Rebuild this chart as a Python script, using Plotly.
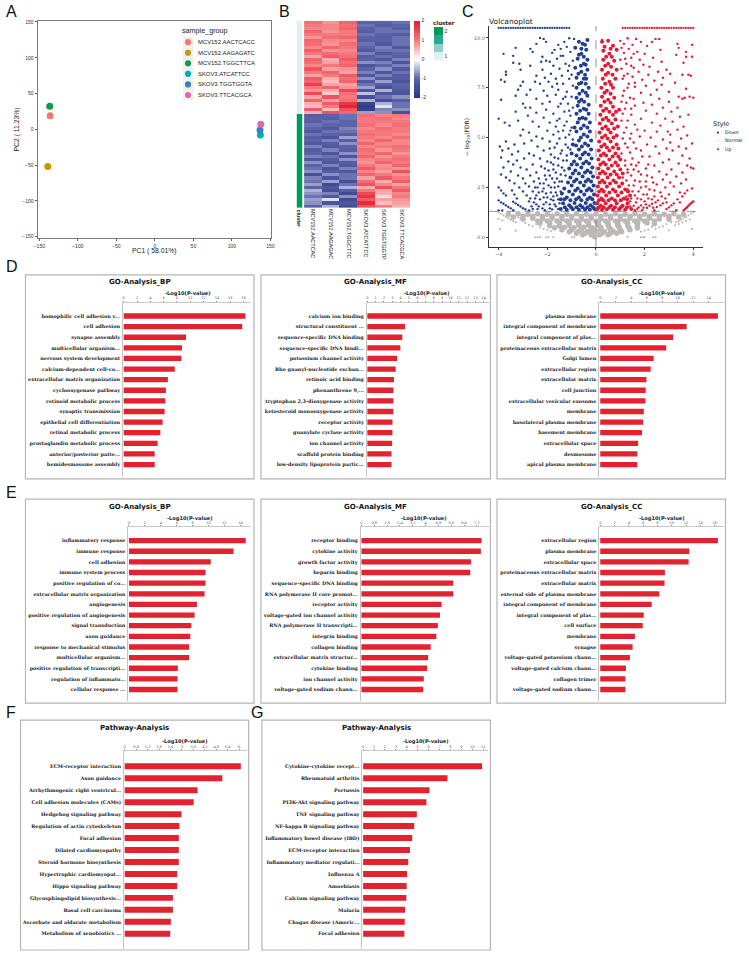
import plotly.graph_objects as go

W, H = 749, 954
RED = "#e2222e"

def fx(p):
    return p / W

def fy(p):
    return 1 - p / H

# ---------- Panel A data ----------
pca_samples = ["MCV152.AACTCACC", "MCV152.AAGAGATC", "MCV152.TGGCTTCA", "SKOV3.ATCATTCC", "SKOV3.TGGTGGTA", "SKOV3.TTCACGCA"]
pca_pc1 = [-136, -139, -136.5, 137, 136.5, 137.5]
pca_pc2 = [19, -52, 32, -8, -1, 7]
pca_colors = ["#f8766d", "#c49a00", "#0b9a4f", "#00aebb", "#3b7fbf", "#de6aa3"]

# ---------- Panel B data ----------
heat_columns = ["MCV152.AACTCAC", "MCV152.AAGAGAC", "MCV152.TGGCTTC", "SKOV3.ATCATTCC", "SKOV3.TGGTGGTP", "SKOV3.TTCACGCA"]
heat_rows = [
    [1.1, 0.8, 1.2, -1.0, -1.0, -0.9], [1.0, 0.9, 1.1, -0.9, -1.1, -1.0], [0.9, 0.9, 1.2, -1.0, -0.9, -1.1],
    [1.2, 0.8, 1.0, -1.1, -0.9, -0.9], [1.0, 1.0, 1.0, -0.9, -1.0, -1.1], [0.8, 1.1, 1.2, -1.0, -1.1, -0.9],
    [1.2, 0.9, 0.9, -1.1, -1.0, -0.9], [1.1, 0.8, 1.1, -0.9, -1.2, -0.9], [0.9, 1.2, 1.0, -1.0, -0.8, -1.2],
    [1.3, 0.8, 0.9, -1.2, -0.9, -0.9], [1.0, 1.1, 1.0, -0.8, -1.2, -1.0], [0.7, 1.3, 1.1, -1.1, -0.9, -1.1],
    [1.2, 0.6, 1.3, -1.0, -1.2, -0.8], [1.1, 0.7, 1.1, -0.7, -0.8, -1.3], [0.9, 1.0, 1.2, -1.3, -1.0, -0.8],
    [1.4, 0.7, 0.8, -1.0, -0.7, -1.2], [1.0, 1.2, 0.7, -0.8, -1.3, -0.9], [0.7, 1.0, 1.3, -1.2, -0.8, -1.1],
    [1.3, 0.6, 1.1, -0.7, -1.2, -1.1], [1.2, 0.5, 1.2, -1.2, -0.6, -1.3], [1.6, 0.7, 0.7, -0.9, -1.1, -1.0],
    [1.0, 1.2, 0.8, -0.6, -1.4, -1.0], [0.8, 0.6, 1.5, -1.3, -0.5, -1.2], [1.5, 0.4, 1.1, -0.4, -1.3, -1.3],
    [0.7, 1.4, 1.0, -1.4, -0.9, -0.7], [1.2, 0.7, 1.1, -0.5, -1.4, -1.1], [0.6, 1.3, 1.7, -1.6, -0.5, -0.9],
    [0.5, 1.0, 1.9, -1.8, -0.2, -0.9], [1.3, 0.5, 1.4, -1.7, -0.8, -0.7], [0.6, 1.4, 1.2, -0.6, -0.7, -1.4],
    [-1.1, -1.0, -0.9, 1.1, 0.9, 1.0], [-1.0, -1.1, -0.9, 1.0, 1.1, 0.9], [-1.1, -0.9, -1.0, 1.0, 1.0, 1.0],
    [-0.9, -1.0, -1.0, 1.1, 0.9, 1.1], [-1.0, -1.2, -0.8, 0.9, 1.1, 1.0], [-1.2, -0.9, -0.9, 1.0, 1.0, 1.0],
    [-0.9, -1.0, -1.1, 1.1, 1.0, 0.9], [-1.1, -1.3, -0.6, 1.0, 0.9, 1.1], [-1.0, -0.8, -1.1, 0.9, 1.2, 0.9],
    [-1.2, -1.1, -0.7, 1.2, 0.9, 0.9], [-0.8, -1.2, -1.0, 0.9, 1.0, 1.1], [-1.1, -0.8, -1.1, 1.1, 0.8, 1.0],
    [-1.0, -1.3, -0.7, 1.0, 1.2, 0.8], [-0.8, -0.9, -1.3, 1.2, 0.8, 1.0], [-1.2, -1.1, -0.7, 0.9, 1.0, 1.1],
    [-0.7, -1.2, -1.1, 0.8, 1.2, 1.0], [-1.0, -0.8, -1.2, 1.0, 0.8, 1.2], [-0.9, -1.3, -0.8, 1.3, 0.9, 0.8],
    [-0.7, -1.1, -1.2, 0.9, 0.7, 1.4], [-1.4, -0.7, -0.9, 1.2, 1.0, 0.8], [-0.8, -1.3, -0.9, 0.7, 1.3, 1.0],
    [-0.9, -0.6, -1.4, 1.1, 0.6, 1.3], [-0.6, -1.5, -0.9, 1.4, 0.9, 0.7], [-1.0, -1.2, -0.5, 0.6, 1.4, 1.0],
    [-0.5, -1.4, -1.1, 1.0, 0.7, 1.3], [-0.7, -0.8, -1.5, 1.5, 0.6, 0.9], [-0.9, -1.2, -0.7, 1.7, 0.3, 1.0],
    [-0.6, -0.2, -1.5, 1.3, 0.7, 0.8], [-0.7, -1.3, -1.2, 1.8, 0.5, 0.7], [-1.0, -0.5, -1.5, 1.4, 1.0, 0.6],
]
cluster_rows = [1] * 30 + [2] * 30

# ---------- Panel C data (x = log2FC, y = -log10 FDR) ----------
down_top_row = [-4.0, -3.9, -3.8, -3.7, -3.6, -3.5, -3.4, -3.3, -3.2, -3.1, -3.0, -2.9, -2.8, -2.7, -2.6, -2.5,
                -2.4, -2.3, -2.2, -2.1, -2.0, -1.9, -1.8, -1.7, -1.6, -1.5, -1.4, -1.3, -1.2, -1.1]
up_top_row = [1.1, 1.2, 1.3, 1.4, 1.5, 1.6, 1.7, 1.8, 1.9, 2.0, 2.1, 2.2, 2.3, 2.4, 2.5, 2.6, 2.7, 2.8, 2.9,
              3.0, 3.1, 3.2, 3.3, 3.4, 3.5, 3.6, 3.7, 3.8, 3.9, 4.0]
top_row_level = 10.5
down_sparse = [
    (-2.3, 10.0), (-2.15, 9.95), (-2.05, 9.8), (-2.45, 9.7), (-1.1, 9.98), (-0.9, 9.95), (-1.3, 9.8), (-1.55, 9.65), (-3.3, 9.5), (-2.7, 9.45),
    (-1.7, 9.4), (-1.45, 9.45), (-1.2, 9.55), (-2.6, 9.3), (-1.8, 9.25), (-1.05, 9.3), (-3.8, 9.2), (-3.4, 9.1), (-2.2, 9.05), (-1.35, 9.1),
    (-2.05, 8.85), (-2.25, 8.8), (-1.6, 8.95), (-0.95, 8.85), (-3.4, 8.75), (-3.15, 8.7), (-1.9, 8.8), (-1.25, 8.7), (-2.7, 8.6), (-1.75, 8.6),
    (-3.1, 8.4), (-2.2, 8.4), (-1.5, 8.45), (-1.15, 8.35), (-3.7, 8.3), (-3.7, 8.15), (-1.85, 8.2), (-1.4, 8.1), (-2.45, 8.1), (-1.0, 8.15),
    (-2.1, 8.0), (-3.9, 7.9), (-1.65, 7.95), (-1.1, 7.95), (-3.75, 7.8), (-3.0, 7.8), (-2.5, 7.8), (-1.95, 7.8), (-3.1, 7.6), (-2.3, 7.7),
    (-1.35, 7.7), (-0.95, 7.6), (-1.8, 7.55), (-3.2, 7.4), (-2.7, 7.4), (-2.15, 7.35), (-1.55, 7.4), (-1.2, 7.3), (-3.3, 7.1), (-2.85, 7.15),
    (-2.0, 7.1), (-1.65, 7.15), (-1.0, 7.05), (-2.45, 6.95), (-1.35, 6.95), (-3.9, 6.9), (-1.9, 6.8), (-3.0, 6.7), (-2.2, 6.7), (-1.15, 6.7),
    (-2.9, 6.5), (-2.7, 6.5), (-1.55, 6.55), (-0.95, 6.5), (-2.05, 6.4), (-3.3, 6.3), (-2.45, 6.25), (-1.3, 6.3), (-1.75, 6.2), (-1.05, 6.1),
    (-2.8, 6.1), (-4.0, 5.95), (-2.15, 6.0), (-1.5, 5.95), (-3.2, 5.85), (-3.75, 5.75), (-2.6, 5.8), (-1.9, 5.75), (-1.2, 5.8), (-3.55, 5.6),
    (-2.35, 5.55), (-1.65, 5.55), (-1.0, 5.5), (-3.0, 5.4), (-2.0, 5.35), (-1.35, 5.35), (-2.75, 5.25), (-3.1, 5.1), (-1.75, 5.15), (-1.1, 5.15),
    (-2.45, 5.05), (-2.2, 4.95), (-1.5, 4.95), (-3.7, 4.8), (-2.65, 4.85), (-1.9, 4.8), (-0.95, 4.9), (-3.35, 4.65), (-2.95, 4.7), (-1.25, 4.65),
    (-3.95, 4.55), (-3.6, 4.45), (-2.4, 4.55), (-1.7, 4.5), (-3.85, 4.35), (-3.2, 4.3), (-2.15, 4.35), (-1.4, 4.35), (-1.05, 4.4), (-3.45, 4.15),
    (-2.75, 4.2), (-2.55, 4.1), (-1.85, 4.15), (-3.9, 4.0), (-2.95, 3.95), (-2.3, 3.95), (-1.55, 3.95), (-3.6, 3.8), (-3.25, 3.85), (-2.0, 3.8),
    (-1.2, 3.85), (-3.4, 3.65), (-2.6, 3.65), (-1.75, 3.65), (-3.8, 3.5), (-3.1, 3.5), (-2.25, 3.55), (-1.4, 3.5), (-2.85, 3.4), (-1.95, 3.35),
    (-3.5, 3.3), (-2.45, 3.25), (-1.65, 3.25), (-3.9, 3.15), (-3.2, 3.1), (-2.7, 3.1), (-2.1, 3.1), (-1.25, 3.1), (-3.7, 3.0), (-3.0, 2.95),
    (-2.35, 2.95), (-1.8, 2.95), (-3.55, 2.85), (-2.55, 2.8), (-1.5, 2.8), (-3.35, 2.7), (-2.9, 2.7), (-2.15, 2.7), (-1.95, 2.6), (-2.75, 2.55),
    (-4.0, 2.5), (-3.9, 2.35), (-3.8, 2.2), (-3.7, 2.1), (-3.15, 2.5), (-2.4, 2.5), (-1.7, 2.5), (-3.45, 2.35), (-3.0, 2.3), (-2.6, 2.3),
    (-2.2, 2.3), (-1.85, 2.25), (-3.35, 2.15), (-2.85, 2.1), (-2.45, 2.1), (-1.6, 2.1), (-3.25, 1.95), (-2.7, 1.95), (-2.3, 1.9), (-2.0, 2.0),
    (-4.0, 1.85), (-3.9, 1.75), (-3.8, 1.68), (-3.7, 1.6), (-3.6, 1.52), (-3.5, 1.45), (-3.4, 1.78), (-3.3, 1.7), (-3.2, 1.62), (-3.1, 1.54),
    (-3.0, 1.46), (-2.9, 1.4), (-2.55, 1.75), (-2.45, 1.65), (-2.35, 1.55), (-2.2, 1.45), (-2.05, 1.75), (-1.9, 1.65), (-1.75, 1.85), (-1.65, 1.55),
    (-4.0, 1.35), (-3.85, 1.34), (-3.4, 1.36), (-2.75, 1.35), (-2.6, 1.42), (-2.1, 1.36), (-1.8, 1.4), (-1.55, 1.42),
    (-1.45, 9.1), (-1.1, 8.6), (-1.6, 7.7), (-1.25, 7.05), (-1.45, 6.7), (-1.1, 6.35), (-1.6, 5.85), (-1.3, 5.6), (-1.05, 5.35), (-1.55, 5.3),
    (-1.25, 5.0), (-1.6, 4.7), (-1.15, 4.5), (-1.9, 4.45), (-1.45, 4.2), (-1.2, 4.1), (-1.7, 4.0), (-1.35, 3.85), (-1.85, 3.75), (-1.55, 3.6),
    (-1.3, 3.35), (-2.1, 3.45), (-1.75, 3.4), (-1.45, 3.15), (-1.9, 3.1), (-1.6, 2.95), (-2.05, 2.9), (-1.4, 2.8), (-1.7, 2.75), (-2.3, 2.7),
    (-1.55, 2.55), (-1.85, 2.5), (-2.15, 2.45), (-2.5, 2.5), (-1.45, 2.3), (-1.65, 2.25), (-2.05, 2.2), (-2.35, 2.25), (-1.75, 2.05), (-2.15, 2.0),
    (-2.5, 1.95), (-1.55, 1.9), (-1.85, 1.9), (-2.75, 1.8), (-1.5, 1.7), (-2.15, 1.65), (-1.7, 1.65), (-2.4, 1.42), (-1.9, 1.45), (-2.65, 1.55),
]
down_core = [
    (-0.35, 9.9), (-0.55, 9.7), (-0.7, 9.8), (-0.4, 9.4), (-0.6, 9.2), (-0.85, 9.5), (-0.35, 8.9), (-0.5, 8.7), (-0.75, 8.95), (-0.35, 8.4),
    (-0.6, 8.3), (-0.85, 8.5), (-0.4, 7.95), (-0.6, 7.75), (-0.8, 8.0), (-0.3, 7.5), (-0.55, 7.35), (-0.8, 7.5), (-0.35, 7.1), (-0.6, 6.9),
    (-0.8, 7.0), (-0.3, 6.65), (-0.5, 6.45), (-0.75, 6.6), (-0.3, 6.2), (-0.55, 6.0), (-0.8, 6.2), (-0.25, 5.75), (-0.5, 5.6), (-0.75, 5.75),
    (-0.25, 5.3), (-0.5, 5.15), (-0.8, 5.3), (-0.2, 4.85), (-0.45, 4.7), (-0.7, 4.85), (-0.95, 4.65), (-0.2, 4.4), (-0.45, 4.25), (-0.7, 4.4),
    (-1.0, 4.2), (-0.18, 3.95), (-0.4, 3.8), (-0.65, 3.95), (-0.9, 3.8), (-0.15, 3.5), (-0.35, 3.35), (-0.6, 3.5), (-0.85, 3.35), (-1.1, 3.45),
    (-0.12, 3.05), (-0.32, 2.9), (-0.55, 3.05), (-0.8, 2.9), (-1.05, 3.0), (-0.1, 2.6), (-0.28, 2.45), (-0.5, 2.6), (-0.75, 2.45), (-1.0, 2.6),
    (-1.3, 2.45), (-0.08, 2.15), (-0.25, 2.0), (-0.48, 2.15), (-0.7, 2.0), (-0.95, 2.15), (-1.2, 2.0), (-1.45, 1.9), (-0.06, 1.72), (-0.22, 1.6),
    (-0.42, 1.72), (-0.65, 1.6), (-0.88, 1.72), (-1.1, 1.6), (-1.35, 1.7), (-0.05, 1.4), (-0.25, 1.38), (-0.45, 1.4), (-0.7, 1.38), (-0.95, 1.4),
    (-1.2, 1.38), (-1.45, 1.42),
    (-0.45, 9.65), (-0.6, 9.45), (-0.5, 9.05), (-0.7, 9.15), (-0.42, 8.65), (-0.62, 8.6), (-0.45, 8.15), (-0.72, 8.2), (-0.5, 7.95), (-0.42, 7.7),
    (-0.7, 7.7), (-0.42, 7.25), (-0.68, 7.2), (-0.48, 6.8), (-0.7, 6.8), (-0.4, 6.4), (-0.65, 6.35), (-0.42, 5.95), (-0.68, 5.95), (-0.35, 5.5),
    (-0.62, 5.45), (-0.88, 5.5), (-0.35, 5.05), (-0.62, 5.0), (-0.32, 4.6), (-0.58, 4.55), (-0.82, 4.6), (-0.3, 4.15), (-0.55, 4.15), (-0.8, 4.1),
    (-0.28, 3.7), (-0.52, 3.7), (-0.78, 3.65), (-1.0, 3.65), (-0.22, 3.25), (-0.45, 3.25), (-0.7, 3.2), (-0.95, 3.2), (-0.2, 2.8), (-0.42, 2.8),
    (-0.65, 2.75), (-0.9, 2.8), (-1.15, 2.75), (-0.18, 2.35), (-0.38, 2.35), (-0.62, 2.3), (-0.85, 2.35), (-1.1, 2.3), (-1.4, 2.2), (-0.15, 1.9),
    (-0.35, 1.9), (-0.6, 1.85), (-0.82, 1.9), (-1.05, 1.85), (-1.3, 1.9), (-0.12, 1.5), (-0.35, 1.5), (-0.55, 1.5), (-0.8, 1.5), (-1.02, 1.5),
    (-1.28, 1.5),
]
up_sparse = [
    (0.25, 9.9), (1.65, 9.95), (1.3, 9.98), (2.45, 9.95), (2.6, 9.95), (1.0, 9.85), (1.85, 9.8), (2.3, 9.8), (3.35, 9.7), (3.95, 9.65),
    (1.5, 9.65), (2.1, 9.6), (1.05, 9.5), (3.4, 9.5), (1.35, 9.45), (2.65, 9.4), (1.7, 9.3), (3.7, 9.3), (2.0, 9.2), (1.15, 9.25),
    (3.3, 9.15), (3.95, 9.05), (3.7, 9.05), (1.45, 9.0), (2.35, 9.0), (1.8, 8.9), (1.0, 8.9), (2.7, 8.8), (3.6, 8.75), (1.25, 8.7),
    (1.95, 8.65), (2.2, 8.55), (1.55, 8.5), (1.05, 8.45), (2.9, 8.4), (2.55, 8.3), (1.75, 8.3), (1.3, 8.2), (3.05, 8.2), (2.15, 8.15),
    (3.55, 8.15), (3.8, 8.15), (3.9, 8.1), (1.5, 8.05), (2.75, 8.0), (1.1, 7.95), (1.9, 7.9), (2.4, 7.85), (3.25, 7.75), (1.35, 7.7),
    (2.7, 7.65), (2.05, 7.6), (1.6, 7.55), (3.7, 7.45), (2.5, 7.4), (1.15, 7.35), (3.0, 7.3), (1.85, 7.25), (2.25, 7.15), (3.4, 7.05),
    (3.65, 7.0), (3.85, 7.05), (3.55, 6.95), (4.0, 7.0), (1.4, 7.0), (2.6, 6.95), (1.05, 6.8), (3.0, 6.8), (1.95, 6.75), (2.3, 6.65),
    (1.6, 6.6), (3.35, 6.5), (2.75, 6.5), (1.2, 6.45), (2.05, 6.35), (3.1, 6.3), (2.5, 6.2), (3.8, 6.15), (1.45, 6.15), (3.45, 6.05),
    (1.85, 5.95), (2.85, 5.95), (1.05, 5.85), (3.15, 5.8), (2.3, 5.75), (1.6, 5.65), (2.65, 5.6), (3.6, 5.55), (1.25, 5.5), (3.35, 5.4),
    (2.0, 5.35), (2.5, 5.3), (2.95, 5.3), (1.45, 5.2), (3.05, 5.15), (3.75, 5.1), (1.8, 5.05), (2.25, 5.0), (3.5, 4.95), (1.1, 4.95),
    (2.75, 4.9), (3.95, 4.7), (3.05, 4.75), (1.55, 4.75), (2.1, 4.65), (3.4, 4.55), (2.45, 4.55), (1.3, 4.5), (3.7, 4.45), (2.9, 4.45),
    (3.15, 4.35), (1.85, 4.35), (2.6, 4.2), (1.05, 4.2), (3.55, 4.1), (2.2, 4.05), (3.85, 3.95), (1.5, 3.95), (3.0, 3.9), (2.75, 3.75),
    (1.75, 3.75), (3.4, 3.7), (2.4, 3.6), (1.2, 3.6), (3.75, 3.6), (4.0, 3.45), (3.9, 3.5), (2.05, 3.45), (1.55, 3.4), (3.1, 3.4),
    (2.6, 3.3), (3.55, 3.25), (1.3, 3.25), (2.9, 3.15), (1.85, 3.15), (3.3, 3.05), (2.3, 3.0), (1.1, 3.0), (3.7, 2.9), (2.75, 2.9),
    (1.6, 2.85), (2.05, 2.8), (3.05, 2.75), (3.5, 2.7), (2.5, 2.65), (1.35, 2.6), (3.2, 2.55), (1.85, 2.5), (2.85, 2.5), (3.95, 2.45),
    (2.2, 2.4), (3.75, 2.35), (1.5, 2.3), (2.65, 2.25), (3.45, 2.25), (3.65, 2.2), (3.0, 2.15), (1.95, 2.15), (3.55, 2.05), (2.4, 2.05),
    (1.25, 2.05), (2.15, 1.95), (2.85, 1.95), (1.7, 1.95), (3.35, 1.9), (3.45, 1.75), (2.55, 1.85), (2.0, 1.8), (1.4, 1.8), (4.0, 1.8),
    (3.95, 1.75), (3.9, 1.7), (3.85, 1.64), (3.8, 1.58), (3.75, 1.52), (3.7, 1.46), (3.65, 1.4), (3.6, 1.34), (2.75, 1.7), (2.65, 1.6),
    (2.5, 1.52), (2.3, 1.68), (2.2, 1.58), (2.1, 1.48), (1.85, 1.6), (1.75, 1.5), (1.55, 1.58), (3.2, 1.7), (3.1, 1.6), (3.0, 1.5),
    (2.9, 1.42), (2.4, 1.36), (1.9, 1.36), (1.6, 1.36), (3.3, 1.36),
    (1.15, 9.7), (1.55, 9.2), (1.2, 8.95), (1.45, 8.6), (1.15, 8.1), (1.6, 7.75), (1.3, 7.5), (1.1, 7.1), (1.55, 6.95), (1.25, 6.75),
    (1.45, 6.45), (1.1, 6.2), (1.3, 5.85), (1.7, 5.4), (1.15, 5.25), (1.4, 4.95), (1.2, 4.7), (1.65, 4.45), (1.4, 4.25), (1.9, 4.05),
    (1.2, 3.85), (1.65, 3.6), (1.45, 3.65), (2.15, 3.65), (1.3, 3.4), (1.75, 3.3), (2.1, 3.1), (1.45, 3.1), (1.25, 2.85), (1.8, 2.8),
    (2.35, 2.75), (1.55, 2.6), (2.05, 2.55), (1.3, 2.4), (1.75, 2.3), (2.4, 2.35), (1.6, 2.1), (2.1, 2.15), (2.7, 2.05), (1.45, 1.95),
    (1.85, 1.9), (2.3, 1.9), (1.65, 1.75), (2.05, 1.65), (2.45, 1.75), (1.4, 1.55), (1.95, 1.48), (2.35, 1.48), (2.9, 1.75), (1.7, 1.42),
]
up_core = [
    (0.25, 9.8), (0.5, 9.85), (0.7, 9.6), (0.3, 9.35), (0.55, 9.2), (0.85, 9.4), (0.3, 8.9), (0.5, 8.7), (0.75, 8.85), (0.25, 8.4),
    (0.5, 8.25), (0.85, 8.4), (0.28, 7.95), (0.55, 7.8), (0.8, 7.95), (0.22, 7.5), (0.45, 7.35), (0.7, 7.5), (0.25, 7.05), (0.5, 6.9),
    (0.75, 7.0), (0.2, 6.6), (0.42, 6.45), (0.7, 6.55), (0.95, 6.4), (0.18, 6.15), (0.42, 6.0), (0.7, 6.15), (0.16, 5.7), (0.4, 5.55),
    (0.65, 5.7), (0.9, 5.55), (0.15, 5.25), (0.38, 5.1), (0.6, 5.25), (0.85, 5.1), (0.13, 4.8), (0.35, 4.65), (0.6, 4.8), (0.85, 4.65),
    (0.12, 4.35), (0.32, 4.2), (0.55, 4.35), (0.8, 4.2), (0.1, 3.9), (0.3, 3.75), (0.55, 3.9), (0.8, 3.75), (1.0, 3.9), (0.1, 3.45),
    (0.28, 3.3), (0.5, 3.45), (0.75, 3.3), (1.0, 3.4), (0.08, 3.0), (0.26, 2.85), (0.48, 3.0), (0.72, 2.85), (0.95, 3.0), (0.08, 2.55),
    (0.24, 2.4), (0.45, 2.55), (0.7, 2.4), (0.95, 2.55), (1.2, 2.4), (0.06, 2.1), (0.22, 1.95), (0.42, 2.1), (0.65, 1.95), (0.9, 2.1),
    (1.15, 1.95), (1.4, 2.1), (0.05, 1.7), (0.2, 1.58), (0.4, 1.7), (0.62, 1.58), (0.85, 1.7), (1.1, 1.58), (1.3, 1.7), (0.05, 1.4),
    (0.25, 1.38), (0.45, 1.4), (0.7, 1.38), (0.95, 1.4), (1.2, 1.38), (1.45, 1.42),
    (0.35, 9.55), (0.6, 9.45), (0.42, 9.05), (0.65, 9.05), (0.38, 8.6), (0.62, 8.55), (0.4, 8.15), (0.68, 8.15), (0.38, 7.7), (0.62, 7.65),
    (0.35, 7.25), (0.6, 7.2), (0.35, 6.8), (0.6, 6.75), (0.3, 6.35), (0.55, 6.3), (0.82, 6.3), (0.28, 5.9), (0.52, 5.85), (0.8, 5.9),
    (0.26, 5.45), (0.5, 5.4), (0.75, 5.45), (0.25, 5.0), (0.48, 4.95), (0.72, 5.0), (0.22, 4.55), (0.45, 4.5), (0.7, 4.5), (0.92, 4.45),
    (0.2, 4.1), (0.42, 4.1), (0.68, 4.05), (0.92, 4.05), (0.18, 3.65), (0.4, 3.65), (0.65, 3.6), (0.9, 3.6), (0.16, 3.2), (0.38, 3.2),
    (0.6, 3.15), (0.85, 3.15), (1.1, 3.2), (0.15, 2.75), (0.35, 2.75), (0.58, 2.7), (0.82, 2.75), (1.08, 2.7), (0.13, 2.3), (0.32, 2.3),
    (0.55, 2.25), (0.8, 2.3), (1.05, 2.25), (1.32, 2.3), (0.12, 1.85), (0.3, 1.85), (0.52, 1.85), (0.78, 1.85), (1.02, 1.85), (1.28, 1.9),
    (0.12, 1.5), (0.32, 1.5), (0.55, 1.5), (0.78, 1.5), (1.02, 1.5), (1.28, 1.5),
]
grey_core = [
    (-3.6, 1.15), (-3.2, 1.18), (-2.8, 1.15), (-2.4, 1.18), (-2.0, 1.15), (-1.6, 1.18), (-1.2, 1.15), (-0.8, 1.18), (-0.4, 1.15), (0.0, 1.17),
    (0.4, 1.15), (0.8, 1.18), (1.2, 1.15), (1.6, 1.18), (2.0, 1.15), (2.4, 1.17), (2.8, 1.15), (3.2, 1.18), (3.6, 1.15),
    (-3.0, 0.92), (-2.6, 0.95), (-2.2, 0.92), (-1.8, 0.95), (-1.4, 0.92), (-1.0, 0.95), (-0.6, 0.92), (-0.2, 0.95), (0.2, 0.92), (0.6, 0.95),
    (1.0, 0.92), (1.4, 0.95), (1.8, 0.92), (2.2, 0.95), (2.6, 0.92), (3.0, 0.9),
    (-2.3, 0.7), (-1.9, 0.72), (-1.5, 0.7), (-1.1, 0.72), (-0.7, 0.7), (-0.3, 0.72), (0.1, 0.7), (0.5, 0.72), (0.9, 0.7), (1.3, 0.72),
    (1.7, 0.7), (2.1, 0.72), (2.4, 0.68),
    (-1.7, 0.48), (-1.3, 0.5), (-0.9, 0.48), (-0.5, 0.5), (-0.15, 0.48), (0.2, 0.5), (0.55, 0.48), (0.95, 0.5), (1.35, 0.48), (1.7, 0.46),
    (-1.1, 0.28), (-0.7, 0.3), (-0.35, 0.28), (0.0, 0.3), (0.35, 0.28), (0.7, 0.3), (1.05, 0.28),
    (-0.55, 0.13), (-0.2, 0.12), (0.15, 0.13), (0.5, 0.12), (-0.05, 0.03),
    (-3.4, 1.02), (-3.0, 1.05), (-2.6, 1.05), (-2.2, 1.05), (-1.8, 1.05), (-1.4, 1.05), (-1.0, 1.05), (-0.6, 1.05), (-0.2, 1.05), (0.2, 1.05),
    (0.6, 1.05), (1.0, 1.05), (1.4, 1.05), (1.8, 1.05), (2.2, 1.05), (2.6, 1.05), (3.0, 1.05), (3.4, 1.02),
    (-2.4, 0.82), (-2.0, 0.82), (-1.6, 0.82), (-1.2, 0.82), (-0.8, 0.82), (-0.4, 0.82), (0.0, 0.82), (0.4, 0.82), (0.8, 0.82), (1.2, 0.82),
    (1.6, 0.82), (2.0, 0.82), (2.4, 0.82),
    (-1.9, 0.58), (-1.5, 0.58), (-1.1, 0.6), (-0.7, 0.6), (-0.3, 0.6), (0.1, 0.6), (0.5, 0.6), (0.9, 0.6), (1.3, 0.6), (1.7, 0.58),
    (-1.4, 0.38), (-1.0, 0.38), (-0.6, 0.4), (-0.2, 0.4), (0.2, 0.4), (0.6, 0.4), (1.0, 0.38), (1.4, 0.38),
    (-0.8, 0.2), (-0.45, 0.2), (-0.1, 0.2), (0.25, 0.2), (0.6, 0.2), (0.85, 0.2),
]
grey_sparse = [
    (-4.0, 1.25), (-3.9, 1.18), (-3.8, 1.1), (-3.7, 1.02), (-3.6, 0.95), (-3.5, 0.88), (-3.4, 0.82), (-3.3, 0.76), (-4.0, 0.92), (-3.85, 0.85),
    (-3.2, 1.0), (-3.1, 0.93), (-2.9, 0.72), (-2.75, 0.62), (-2.6, 0.55), (-2.45, 0.65), (-2.3, 0.5), (-2.15, 0.42), (-2.0, 0.36), (-1.85, 0.3),
    (-3.95, 0.42), (-3.3, 0.33), (-2.5, 0.0), (-2.4, 0.0), (-2.3, 0.01), (-2.05, 0.0), (-1.95, 0.01), (-1.75, 0.0), (-1.0, 0.0), (-0.9, 0.01),
    (4.0, 1.25), (3.9, 1.18), (3.8, 1.1), (3.7, 1.02), (3.6, 0.95), (3.5, 0.88), (3.4, 0.82), (3.3, 0.76), (3.85, 0.9), (3.7, 0.82),
    (3.55, 0.74), (3.4, 0.66), (3.25, 0.6), (3.1, 0.75), (2.9, 0.65), (2.75, 0.55), (2.6, 0.5), (2.45, 0.42), (2.3, 0.52), (2.15, 0.38),
    (2.0, 0.33), (1.85, 0.28), (3.95, 0.42), (3.0, 0.35), (1.85, 0.0), (1.95, 0.01), (2.35, 0.0), (1.3, 0.02), (2.0, 0.0), (2.45, 0.01),
]
fdr_cut = 1.3

# ---------- Panels D-G data ----------
d_bp_terms = ["homophilic cell adhesion v...", "cell adhesion", "synapse assembly", "multicellular organism...", "nervous system development",
              "calcium-dependent cell-co...", "extracellular matrix organization", "cyclooxygenase pathway", "retinoid metabolic process",
              "synaptic transmission", "epithelial cell differentiation", "retinal metabolic process", "prostaglandin metabolic process",
              "anterior/posterior patte...", "hemidesmosome assembly"]
d_bp_vals = [18.27, 17.8, 9.36, 8.76, 8.66, 7.67, 6.63, 6.34, 6.24, 6.14, 5.84, 5.5, 5.1, 4.65, 4.65]
d_mf_terms = ["calcium ion binding", "structural constituent ...", "sequence-specific DNA binding", "sequence-specific DNA bindi...",
              "potassium channel activity", "Rho guanyl-nucleotide exchan...", "retinoic acid binding", "phenanthrene 9,...",
              "tryptophan 2,3-dioxygenase activity", "ketosteroid monooxygenase activity", "receptor activity", "guanylate cyclase activity",
              "ion channel activity", "scaffold protein binding", "low-density lipoprotein partic..."]
d_mf_vals = [13.77, 4.52, 4.2, 3.97, 3.57, 3.41, 3.21, 3.13, 3.13, 3.13, 3.02, 3.02, 2.98, 2.9, 2.9]
d_cc_terms = ["plasma membrane", "integral component of membrane", "integral component of plas...", "proteinaceous extracellular matrix",
              "Golgi lumen", "extracellular region", "extracellular matrix", "cell junction", "extracellular vesicular exosome", "membrane",
              "basolateral plasma membrane", "basement membrane", "extracellular space", "desmosome", "apical plasma membrane"]
d_cc_vals = [15.19, 11.15, 9.4, 8.51, 6.89, 6.51, 5.96, 5.87, 5.83, 5.62, 5.53, 5.4, 4.89, 4.77, 4.77]
e_bp_terms = ["inflammatory response", "immune response", "cell adhesion", "immune system process", "positive regulation of co...",
              "extracellular matrix organization", "angiogenesis", "positive regulation of angiogenesis", "signal transduction", "axon guidance",
              "response to mechanical stimulus", "multicellular organism...", "positive regulation of transcripti...",
              "regulation of inflammato...", "cellular response ..."]
e_bp_vals = [14.66, 13.13, 10.27, 9.61, 9.61, 9.49, 8.53, 8.24, 7.83, 7.7, 7.54, 7.54, 6.13, 6.09, 6.09]
e_mf_terms = ["receptor binding", "cytokine activity", "growth factor activity", "heparin binding", "sequence-specific DNA binding",
              "RNA polymerase II core promot...", "receptor activity", "voltage-gated ion channel activity", "RNA polymerase II transcripti...",
              "integrin binding", "collagen binding", "extracellular matrix structur...", "cytokine binding", "ion channel activity",
              "voltage-gated sodium chann..."]
e_mf_vals = [7.49, 7.45, 6.83, 6.79, 5.72, 5.72, 5.0, 4.9, 4.77, 4.67, 4.32, 4.16, 4.09, 3.89, 3.85]
e_cc_terms = ["extracellular region", "plasma membrane", "extracellular space", "proteinaceous extracellular matrix", "extracellular matrix",
              "external side of plasma membrane", "integral component of membrane", "integral component of plas...", "cell surface", "membrane",
              "synapse", "voltage-gated potassium chann...", "voltage-gated calcium chann...", "collagen trimer", "voltage-gated sodium chann..."]
e_cc_vals = [16.45, 12.44, 12.35, 9.03, 8.99, 8.25, 7.19, 6.08, 5.94, 4.84, 4.52, 4.15, 3.59, 3.5, 3.5]
f_terms = ["ECM-receptor interaction", "Axon guidance", "Arrhythmogenic right ventricul...", "Cell adhesion molecules (CAMs)", "Hedgehog signaling pathway",
           "Regulation of actin cytoskeleton", "Focal adhesion", "Dilated cardiomyopathy", "Steroid hormone biosynthesis", "Hypertrophic cardiomyopat...",
           "Hippo signaling pathway", "Glycosphingolipid biosynthesis...", "Basal cell carcinoma", "Ascorbate and aldarate metabolism",
           "Metabolism of xenobiotics ..."]
f_vals = [6.09, 5.12, 3.82, 3.62, 2.98, 2.87, 2.84, 2.84, 2.84, 2.75, 2.75, 2.53, 2.53, 2.42, 2.39]
g_terms = ["Cytokine-cytokine recept...", "Rheumatoid arthritis", "Pertussis", "PI3K-Akt signaling pathway", "TNF signaling pathway",
           "NF-kappa B signaling pathway", "Inflammatory bowel disease (IBD)", "ECM-receptor interaction", "Inflammatory mediator regulati...",
           "Influenza A", "Amoebiasis", "Calcium signaling pathway", "Malaria", "Chagas disease (Americ...", "Focal adhesion"]
g_vals = [10.9, 7.73, 6.07, 5.8, 4.92, 4.68, 4.5, 4.29, 4.14, 4.02, 3.99, 3.96, 3.84, 3.81, 3.78]

ticks_0_18 = [0, 2, 4, 6, 8, 10, 12, 14, 16, 18]
ticks_0_14 = list(range(0, 15))
ticks_2_14 = [0, 2, 4, 6, 8, 10, 12, 14]
ticks_2_16 = [0, 2, 4, 6, 8, 10, 12, 14, 16]
ticks_08 = [0, 0.8, 1.6, 2.4, 3.2, 4, 4.8, 5.6, 6.4, 7.2]
ticks_06 = [0, 0.6, 1.2, 1.8, 2.4, 3, 3.6, 4.2, 4.8, 5.4, 6]
ticks_0_11 = list(range(0, 12))

rows_d = dict(first=315.0, last=464.0, top=301.7, bottom=476.7, box=(273.7, 478.3), title=281.0, axis=292.7)
rows_e = dict(first=540.3, last=689.7, top=526.7, bottom=701.7, box=(498.7, 703.3), title=506.3, axis=518.0)
rows_f = dict(first=766.7, last=934.7, top=751.7, bottom=950.0, box=(720.3, 951.0), title=728.7, axis=741.7)

panels = [
    dict(t=d_bp_terms, v=d_bp_vals, ticks=ticks_0_18, name="GO-Analysis_BP", r=rows_d, l=21.7, rt=252.7, line=120.3, x0=121.0, unit=6.73, end=250.0, tc=137.0, ac=185.7),
    dict(t=d_mf_terms, v=d_mf_vals, ticks=ticks_0_14, name="GO-Analysis_MF", r=rows_d, l=259.7, rt=491.7, line=366.7, x0=367.3, unit=8.4, end=490.0, tc=375.7, ac=427.7),
    dict(t=d_cc_terms, v=d_cc_vals, ticks=ticks_2_14, name="GO-Analysis_CC", r=rows_d, l=498.3, rt=729.3, line=601.7, x0=602.7, unit=7.83, end=728.0, tc=614.3, ac=665.3),
    dict(t=e_bp_terms, v=e_bp_vals, ticks=ticks_2_14, name="GO-Analysis_BP", r=rows_e, l=21.7, rt=252.7, line=125.7, x0=126.3, unit=8.05, end=250.0, tc=137.0, ac=188.0),
    dict(t=e_mf_terms, v=e_mf_vals, ticks=ticks_08, name="GO-Analysis_MF", r=rows_e, l=259.7, rt=491.7, line=360.5, x0=361.3, unit=16.2, end=490.0, tc=375.7, ac=425.0),
    dict(t=e_cc_terms, v=e_cc_vals, ticks=ticks_2_16, name="GO-Analysis_CC", r=rows_e, l=498.3, rt=729.3, line=601.7, x0=602.7, unit=7.23, end=728.0, tc=614.3, ac=665.3),
    dict(t=f_terms, v=f_vals, ticks=ticks_06, name="Pathway-Analysis", r=rows_f, l=16.7, rt=247.3, line=121.3, x0=122.0, unit=19.27, end=245.3, tc=132.0, ac=183.3),
    dict(t=g_terms, v=g_vals, ticks=ticks_0_11, name="Pathway-Analysis", r=rows_f, l=260.7, rt=491.7, line=362.3, x0=363.0, unit=11.03, end=489.3, tc=376.3, ac=426.3),
]

fig = go.Figure()
shapes, notes, axes = [], [], {}

def note(x, y, text, size=6, family="Liberation Sans", color="#222", anchor="left", angle=0):
    notes.append(dict(x=fx(x), y=fy(y), xref="paper", yref="paper", text=text, showarrow=False, xanchor=anchor,
                      yanchor="middle", textangle=angle, borderpad=0, borderwidth=0,
                      font=dict(size=size, family=family, color=color)))

def dom_x(a, b):
    return [fx(a), fx(b)]

def dom_y(top, bottom):
    return [fy(bottom), fy(top)]

# ---------- A ----------
for name, px_, py_, col in zip(pca_samples, pca_pc1, pca_pc2, pca_colors):
    fig.add_trace(go.Scatter(x=[px_], y=[py_], mode="markers", name=name, showlegend=False, xaxis="x", yaxis="y",
                             marker=dict(size=7, color=col)))
pca_ticks = [-150, -100, -50, 0, 50, 100, 150]
pca_axis = dict(showgrid=False, zeroline=False, showline=True, mirror=True, linecolor="#7a7a7a", linewidth=1.4,
                ticks="outside", ticklen=2, tickwidth=0.6, tickcolor="#555", tickvals=pca_ticks,
                tickfont=dict(size=5.1, family="Liberation Sans", color="#333"))
axes["xaxis"] = dict(pca_axis, domain=dom_x(34.3, 270), range=[-151.8, 150.9], anchor="y")
axes["yaxis"] = dict(pca_axis, domain=dom_y(19, 237), range=[-152.4, 151.4], anchor="x")
note(152, 249.5, "PC1 ( 58.01%)", size=6.8, anchor="center")
note(13, 128, "PC2 ( 11.23%)", size=6.8, anchor="center", angle=-90)
note(180.3, 29, "sample_group", size=7.2)
shapes.append(dict(type="rect", xref="paper", yref="paper", x0=fx(181), x1=fx(191.7), y0=fy(35), y1=fy(98.6),
                   fillcolor="#f0f0f0", line=dict(width=0), layer="below"))
for i, (name, col) in enumerate(zip(pca_samples, pca_colors)):
    cy = 40.3 + i * 10.6
    shapes.append(dict(type="circle", xref="paper", yref="paper", x0=fx(186 - 3.1), x1=fx(186 + 3.1),
                       y0=fy(cy + 3.1), y1=fy(cy - 3.1), fillcolor=col, line=dict(width=0)))
    note(195.7, cy, name, size=5.9)

# ---------- B ----------
heat_scale = [[0, "#27357f"], [0.25, "#5a62a8"], [0.5, "#ffffff"], [0.75, "#f5787d"], [1, "#e41a2c"]]
fig.add_trace(go.Heatmap(z=heat_rows, x=heat_columns, colorscale=heat_scale, zmin=-2, zmax=2, xaxis="x2", yaxis="y2",
                         colorbar=dict(x=fx(414), xanchor="left", xpad=0, y=fy(18.7), yanchor="top", ypad=0, thickness=6,
                                       thicknessmode="pixels", len=77.3, lenmode="pixels", outlinewidth=0, ticks="",
                                       tickvals=[-2, -1, 0, 1, 2], ticktext=["-2", "-1", "0", "1", "2"],
                                       tickfont=dict(size=5.2, family="Liberation Sans", color="#333"))))
axes["xaxis2"] = dict(domain=dom_x(303.3, 410.7), anchor="y2", showgrid=False, zeroline=False, ticks="", tickangle=90,
                      tickfont=dict(size=5.5, family="Liberation Sans", color="#222"), ticklabelstandoff=0)
axes["yaxis2"] = dict(domain=dom_y(18.7, 206.7), anchor="x2", autorange="reversed", visible=False)
cluster_scale = [[0, "#dff0f5"], [0.25, "#dff0f5"], [0.25, "#8fd0cf"], [0.5, "#8fd0cf"], [0.5, "#2aa98b"], [0.75, "#2aa98b"],
                 [0.75, "#009a5a"], [1, "#009a5a"]]
fig.add_trace(go.Heatmap(z=[[c] for c in cluster_rows], colorscale=cluster_scale, zmin=1, zmax=2, xaxis="x3", yaxis="y3",
                         colorbar=dict(x=fx(434.3), xanchor="left", xpad=0, y=fy(25.3), yanchor="top", ypad=0, thickness=9,
                                       thicknessmode="pixels", len=32.7, lenmode="pixels", outlinewidth=0, ticks="",
                                       tickvals=[1.125, 1.875], ticktext=["1", "2"],
                                       tickfont=dict(size=5.2, family="Liberation Sans", color="#333"))))
axes["xaxis3"] = dict(domain=dom_x(295.7, 301.7), anchor="y3", visible=False)
axes["yaxis3"] = dict(domain=dom_y(18.7, 206.7), anchor="x3", autorange="reversed", visible=False)
note(434, 20.7, "<b>cluster</b>", size=5.5, family="DejaVu Sans")
note(298, 218, "<b>cluster</b>", size=5.4, family="Liberation Sans", anchor="center", angle=90)

# ---------- C ----------
BLUE, CRIM, GREY = "#233f8f", "#e41a35", "#bdb8b6"
def scatter_pts(points, color, size, name):
    fig.add_trace(go.Scatter(x=[p[0] for p in points], y=[p[1] for p in points], mode="markers", name=name, showlegend=False,
                             xaxis="x4", yaxis="y4", marker=dict(size=size, color=color, line=dict(width=0))))
scatter_pts(grey_core, GREY, 5.5, "Normal")
scatter_pts(grey_sparse, GREY, 2.2, "Normal")
scatter_pts(down_core, BLUE, 4, "Down")
scatter_pts(down_sparse, BLUE, 2.4, "Down")
scatter_pts([(x, top_row_level) for x in down_top_row], BLUE, 2.2, "Down")
scatter_pts(up_core, CRIM, 4, "Up")
scatter_pts(up_sparse, CRIM, 2.4, "Up")
scatter_pts([(x, top_row_level) for x in up_top_row], CRIM, 2.2, "Up")
axes["xaxis4"] = dict(domain=dom_x(490, 706.7), range=[-4.406, 4.406], anchor="y4", showgrid=False, zeroline=False, showline=True,
                      linecolor="#333", linewidth=1, ticks="outside", ticklen=2, tickwidth=0.6, tickcolor="#333", tickvals=[-4, -2, 0, 2, 4],
                      tickfont=dict(size=4.8, family="DejaVu Sans", color="#555"))
axes["yaxis4"] = dict(domain=dom_y(24, 246), range=[-0.5, 10.6], anchor="x4", showgrid=False, zeroline=False, showline=True,
                      linecolor="#333", linewidth=1, ticks="outside", ticklen=2, tickwidth=0.6, tickcolor="#333",
                      tickvals=[0, 2.5, 5, 7.5, 10], ticktext=["0.0", "2.5", "5.0", "7.5", "10.0"],
                      tickfont=dict(size=4.8, family="DejaVu Sans", color="#555"))
shapes.append(dict(type="line", xref="x4", yref="y4", x0=-4.406, x1=4.406, y0=fdr_cut, y1=fdr_cut, line=dict(color="#666", width=0.7, dash="dash")))
shapes.append(dict(type="line", xref="x4", yref="y4", x0=0, x1=0, y0=-0.5, y1=10.6, line=dict(color="#666", width=0.7, dash="dash")))
note(490, 19.3, "Volcanoplot", size=7.5, family="DejaVu Sans")
note(468, 135.7, "− log<sub>10</sub>(FDR)", size=6, family="DejaVu Sans", anchor="center", angle=-90)
note(717, 122.5, "Style", size=6.5, family="DejaVu Sans")
for label, color, cy, r in [("Down", BLUE, 131, 1.1), ("Normal", GREY, 139.3, 0.7), ("Up", CRIM, 147.7, 1.1)]:
    shapes.append(dict(type="circle", xref="paper", yref="paper", x0=fx(721.7 - r), x1=fx(721.7 + r), y0=fy(cy + r), y1=fy(cy - r),
                       fillcolor=color, line=dict(width=0)))
    note(728.3, cy, label, size=4.8, family="DejaVu Sans")

# ---------- D-G ----------
for i, p in enumerate(panels):
    n = i + 5
    r = p["r"]
    step = (r["last"] - r["first"]) / 14
    fig.add_trace(go.Bar(x=p["v"], y=p["t"], orientation="h", marker=dict(color=RED, line=dict(width=0)), width=0.5,
                         xaxis=f"x{n}", yaxis=f"y{n}", showlegend=False, name=p["name"]))
    axes[f"xaxis{n}"] = dict(domain=dom_x(p["line"], p["end"]), anchor=f"y{n}", side="top", showgrid=False, zeroline=False,
                             range=[(p["line"] - p["x0"]) / p["unit"], (p["end"] - p["x0"]) / p["unit"]],
                             showline=True, linecolor="#c8c8c8", linewidth=0.8, ticks="outside", ticklen=1, tickwidth=0.4, tickcolor="#888",
                             tickvals=p["ticks"], tickfont=dict(size=3.5, family="DejaVu Sans", color="#555"), ticklabelstandoff=0)
    axes[f"yaxis{n}"] = dict(domain=dom_y(r["top"], r["bottom"]), anchor=f"x{n}", type="category", showgrid=False, zeroline=False,
                             range=[14 + (r["bottom"] - r["last"]) / step, -(r["first"] - r["top"]) / step],
                             showline=True, linecolor="#c4c4c4", linewidth=0.9, ticks="", dtick=1, automargin=False, ticklabelstandoff=1,
                             tickfont=dict(size=4.95, family="DejaVu Serif", color="#222", weight="bold"))
    shapes.append(dict(type="rect", xref="paper", yref="paper", x0=fx(p["l"]), x1=fx(p["rt"]), y0=fy(r["box"][1]), y1=fy(r["box"][0]),
                       line=dict(color="#b5b5b5", width=1.2), fillcolor="rgba(0,0,0,0)"))
    note(p["tc"], r["title"], f"<b>{p['name']}</b>", size=7, family="DejaVu Sans", color="#111", anchor="center")
    note(p["ac"], r["axis"], "<b>-Log10(P-value)</b>", size=5.1, family="DejaVu Sans", color="#222", anchor="center")

# ---------- panel letters ----------
for letter, x, y in [("A", 2.5, 10), ("B", 277.5, 10), ("C", 462.5, 10), ("D", 2, 265), ("E", 2, 492), ("F", 2, 713), ("G", 249.5, 713)]:
    note(x, y, letter, size=16, family="Liberation Sans", color="#111")

fig.update_layout(width=W, height=H, margin=dict(l=0, r=0, t=0, b=0), autosize=False, paper_bgcolor="white", plot_bgcolor="white",
                  shapes=shapes, annotations=notes, showlegend=False, bargap=0.5, **axes)
fig.write_html("out.html", post_script="document.body.style.margin='0';", config=dict(displayModeBar=False))
